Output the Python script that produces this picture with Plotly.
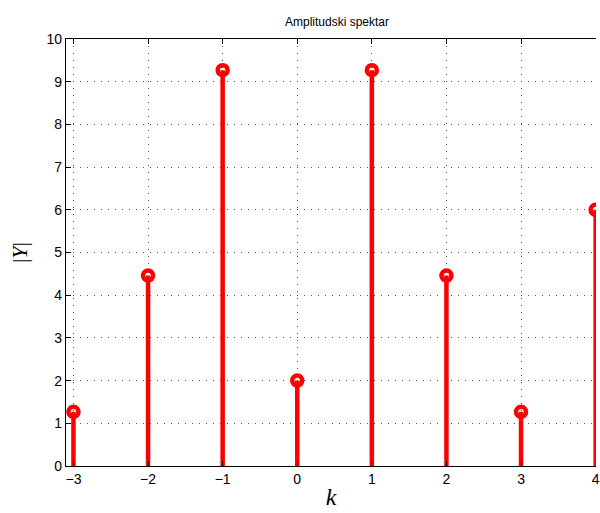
import plotly.graph_objects as go

# Amplitude spectrum |Y| for harmonics k
k = [-3, -2, -1, 0, 1, 2, 3, 4]
amp = [1.27, 4.46, 9.27, 2.0, 9.27, 4.46, 1.27, 6.0]

x_ticks = [-3, -2, -1, 0, 1, 2, 3, 4]
y_ticks = list(range(0, 11))

RED = "#ff0000"

# stems: vertical segments from 0 to each amplitude
stem_x, stem_y = [], []
for kk, a in zip(k, amp):
    stem_x += [kk, kk, None]
    stem_y += [0, a, None]

fig = go.Figure()
fig.add_trace(go.Scatter(
    x=stem_x, y=stem_y, mode="lines",
    line=dict(color=RED, width=4.5),
    hoverinfo="skip", showlegend=False,
))
fig.add_trace(go.Scatter(
    x=k, y=amp, mode="markers",
    marker=dict(symbol="circle", size=10, color="rgba(255,255,255,0)",
                line=dict(color=RED, width=4.5)),
    showlegend=False,
))

axis_font = dict(family="Liberation Sans, Arial, sans-serif", size=14, color="black")
label_font = dict(family="Liberation Serif, Times New Roman, serif", size=24, color="black")
grid_style = dict(showgrid=True, gridcolor="#555555", gridwidth=1, griddash="1px,6px")

fig.update_xaxes(
    range=[-3.1, 4.005], tickvals=x_ticks, ticks="inside", ticklen=5,
    tickcolor="black", showline=True, linecolor="black", linewidth=1.2,
    mirror="ticks", zeroline=False, tickfont=axis_font,
    ticklabeloverflow="allow",
    title=dict(text="<i>k</i>", font=label_font, standoff=2),
    **grid_style,
)
fig.update_yaxes(
    range=[0, 10], tickvals=y_ticks, ticks="inside", ticklen=5,
    tickcolor="black", showline=True, linecolor="black", linewidth=1.2,
    mirror=False, zeroline=False, tickfont=axis_font,
    title=dict(text="|<i>Y</i>|", font=dict(label_font, size=22), standoff=12),
    **grid_style,
)

fig.update_layout(
    width=600, height=513,
    margin=dict(l=66, r=0, t=39, b=47),
    paper_bgcolor="white", plot_bgcolor="white",
    title=dict(text="Amplitudski spektar", x=337 / 600, xanchor="center",
               y=1 - 22 / 513, yanchor="middle",
               font=dict(family="Liberation Sans, Arial, sans-serif", size=12, color="black")),
)

fig.write_html("out.html")
